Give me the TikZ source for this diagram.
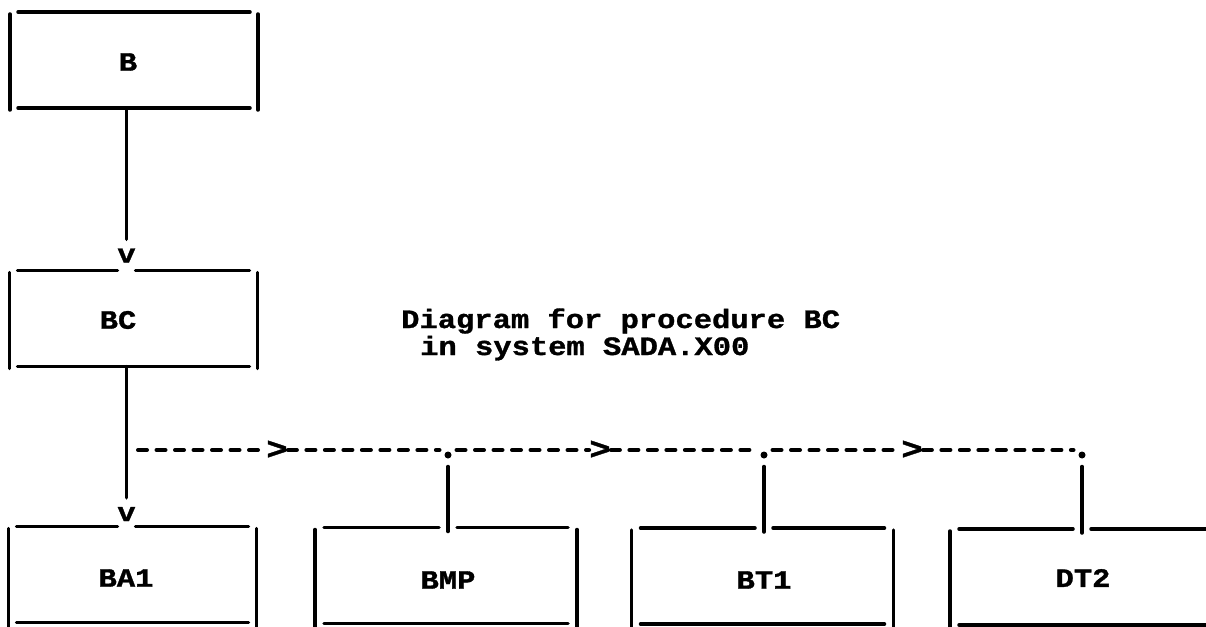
\documentclass[tikz,border=0pt]{standalone}
\usepackage{fontspec}
\newfontfamily\chartfont{Liberation Mono}[FakeStretch=1.15, BoldFeatures={FakeBold=1.2}]

\begin{document}
\begin{tikzpicture}[
    x=1pt, y=-1pt,
    box/.style={
        rectangle,
        minimum width=#1,
        minimum height=96pt,
        inner sep=0pt,
        outer sep=0pt
    },
    box/.default=248pt,
    boxtext/.style={
        font=\chartfont\bfseries\fontsize{26.5}{18}\selectfont,
        inner sep=0pt
    },
    glyph/.style={
        font=\chartfont\bfseries\fontsize{26.5}{18}\selectfont,
        inner sep=1pt
    },
    bigglyph/.style={
        font=\chartfont\bfseries\fontsize{31}{18}\selectfont,
        inner sep=0pt
    },
    joint/.style={
        circle,
        fill=black,
        minimum size=7pt,
        inner sep=0pt,
        outer sep=5pt
    },
    side/.style={line width=3.5pt, line cap=round},
    wire/.style={line width=3.5pt, line cap=round},
    dashlink/.style={line width=4pt, line cap=round, dash pattern=on 9pt off 9.5pt}
]

% Page
\path[use as bounding box] (0,0) rectangle (1206,626);
\clip (0,0) rectangle (1206,626);

% Boxes
\node[box] (b) at (134,60) {};
\node[box] (bc) at (133.5,318.5) {};
\node[box] (ba1) at (132.5,574.5) {};
\node[box=262pt] (bmp) at (446,575.5) {};
\node[box=262pt] (bt1) at (762.5,576) {};
\node[box=274pt] (dt2) at (1087,577) {};

% Box texts
\node[boxtext] (tb) at (128,62) {B};
\node[boxtext] (tbc) at (118,320) {BC};
\node[boxtext] (tba1) at (126,578) {BA1};
\node[boxtext] (tbmp) at (448,580) {BMP};
\node[boxtext] (tbt1) at (764,580) {BT1};
\node[boxtext] (tdt2) at (1083,578) {DT2};

% Heading
\node[boxtext, anchor=base west] (head1) at (401,328) {Diagram for procedure BC};
\node[boxtext, anchor=base west] (head2) at (420,355) {in system SADA.X00};

% Call arrows
\node[glyph] (vbc) at (126.5,255.5) {v};
\node[glyph] (vba1) at (126.5,514) {v};
\draw[wire] (b.south -| vbc) -- ([yshift=8pt]vbc.north);
\draw[wire] (bc.south -| vba1) -- ([yshift=8pt]vba1.north);

% Dashed call chain
\coordinate (d0) at (138,450);
\node[bigglyph] (g1) at (277,450) {>};
\node[joint] (p1) at (448,455) {};
\node[bigglyph] (g2) at (600,450) {>};
\node[joint] (p2) at (764,455) {};
\node[bigglyph] (g3) at (912,450) {>};
\node[joint] (p3) at (1082,455) {};

\draw[dashlink] (d0) -- (g1);
\draw[dashlink] (g1.east) -- (g1.east -| p1.west);
\draw[dashlink] (p1.east |- g2) -- (g2.west);
\draw[dashlink] (g2.east) -- (g2.east -| p2.west);
\draw[dashlink] (p2.east |- g3) -- (g3.west);
\draw[dashlink] (g3.east) -- (g3.east -| p3.west);

\draw[wire, shorten <=3pt, shorten >=-4pt] (p1) -- (p1 |- bmp.north);
\draw[wire, shorten <=3pt, shorten >=-4pt] (p2) -- (p2 |- bt1.north);
\draw[wire, shorten <=3pt, shorten >=-4pt] (p3) -- (p3 |- dt2.north);

% Box sides
\draw[side] ([xshift=8pt]b.north west) -- ([xshift=-8pt]b.north east)
    ([xshift=8pt]b.south west) -- ([xshift=-8pt]b.south east)
    ([yshift=-2pt]b.north west) -- ([yshift=-2pt]b.south west)
    ([yshift=-2pt]b.north east) -- ([yshift=-2pt]b.south east);
\draw[side] ([xshift=8pt]bc.north west) -- ([xshift=-9pt]bc.north -| vbc)
    ([xshift=9pt]bc.north -| vbc) -- ([xshift=-8pt]bc.north east)
    ([xshift=8pt]bc.south west) -- ([xshift=-8pt]bc.south east)
    ([yshift=-2pt]bc.north west) -- ([yshift=-2pt]bc.south west)
    ([yshift=-2pt]bc.north east) -- ([yshift=-2pt]bc.south east);
\draw[side] ([xshift=8pt]ba1.north west) -- ([xshift=-9pt]ba1.north -| vba1)
    ([xshift=9pt]ba1.north -| vba1) -- ([xshift=-8pt]ba1.north east)
    ([xshift=8pt]ba1.south west) -- ([xshift=-8pt]ba1.south east)
    ([yshift=-2pt]ba1.north west) -- ([yshift=-4pt]ba1.south west)
    ([yshift=-2pt]ba1.north east) -- ([yshift=-4pt]ba1.south east);
\draw[side] ([xshift=9pt]bmp.north west) -- ([xshift=-9pt]bmp.north -| p1)
    ([xshift=9pt]bmp.north -| p1) -- ([xshift=-9pt]bmp.north east)
    ([xshift=9pt]bmp.south west) -- ([xshift=-9pt]bmp.south east)
    ([yshift=-2pt]bmp.north west) -- ([yshift=-4pt]bmp.south west)
    ([yshift=-2pt]bmp.north east) -- ([yshift=-4pt]bmp.south east);
\draw[side] ([xshift=9pt]bt1.north west) -- ([xshift=-9pt]bt1.north -| p2)
    ([xshift=9pt]bt1.north -| p2) -- ([xshift=-9pt]bt1.north east)
    ([xshift=9pt]bt1.south west) -- ([xshift=-9pt]bt1.south east)
    ([yshift=-2pt]bt1.north west) -- ([yshift=-4pt]bt1.south west)
    ([yshift=-2pt]bt1.north east) -- ([yshift=-4pt]bt1.south east);
\draw[side] ([xshift=9pt]dt2.north west) -- ([xshift=-9pt]dt2.north -| p3)
    ([xshift=9pt]dt2.north -| p3) -- ([xshift=-9pt]dt2.north east)
    ([xshift=9pt]dt2.south west) -- ([xshift=-9pt]dt2.south east)
    ([yshift=-2pt]dt2.north west) -- ([yshift=-4pt]dt2.south west)
    ([yshift=-2pt]dt2.north east) -- ([yshift=-4pt]dt2.south east);

\end{tikzpicture}
\end{document}
